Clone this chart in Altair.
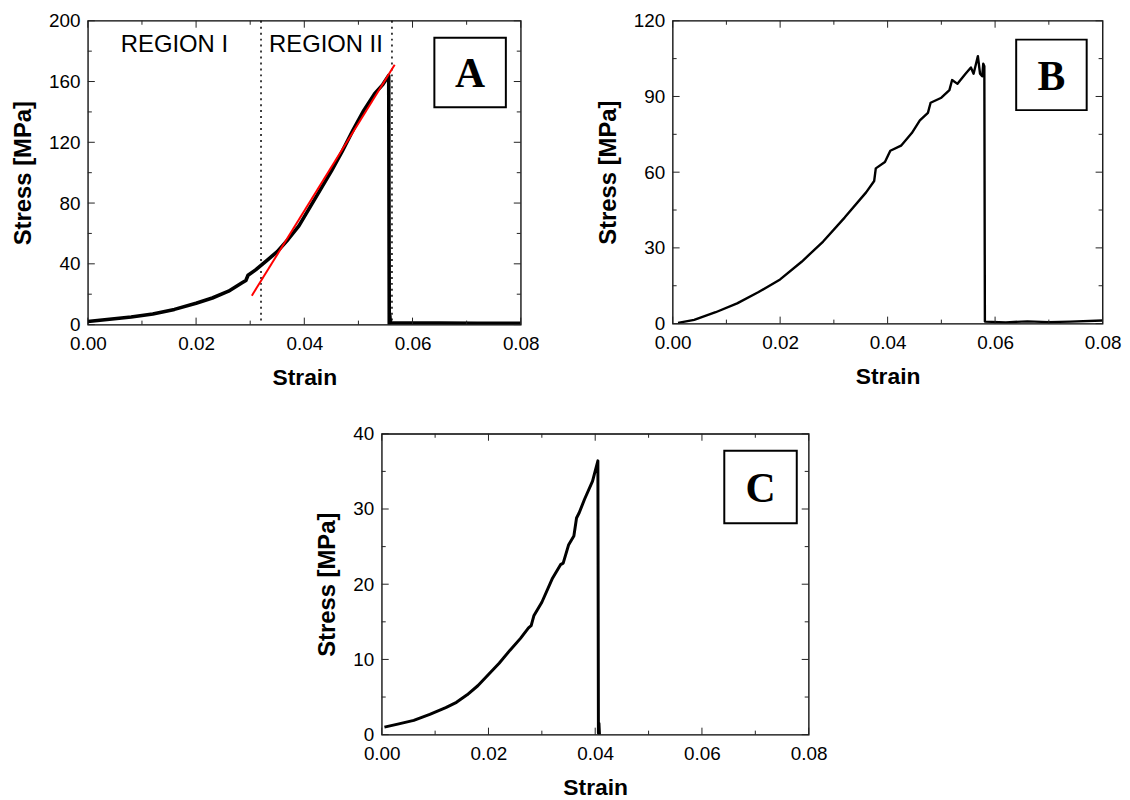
import altair as alt
import pandas as pd

# ---------------- data ----------------
X_MAJOR = [0.0, 0.02, 0.04, 0.06, 0.08]
X_MINOR = [0.01, 0.03, 0.05, 0.07]

A_Y_MAJOR = [0, 40, 80, 120, 160, 200]
A_Y_MINOR = [20, 60, 100, 140, 180]
B_Y_MAJOR = [0, 30, 60, 90, 120]
B_Y_MINOR = [15, 45, 75, 105]
C_Y_MAJOR = [0, 10, 20, 30, 40]
C_Y_MINOR = [5, 15, 25, 35]

A_STRAIN = [0.0, 0.004, 0.008, 0.012, 0.016, 0.02, 0.023, 0.026, 0.0285, 0.0292,
            0.0296, 0.031, 0.033, 0.035, 0.037, 0.039, 0.041, 0.043, 0.045, 0.047,
            0.049, 0.051, 0.053, 0.0545, 0.0556, 0.0557, 0.0558, 0.0559, 0.056,
            0.065, 0.072, 0.08]
A_STRESS = [2, 3.5, 5, 7, 10, 14, 17.5, 22, 27.5, 29,
            32.5, 36, 42, 48, 56, 65, 77, 89, 101, 114,
            128, 141, 152, 158, 164, 0.5, 6, 1.2, 1,
            1, 0.8, 0.8]

FIT_STRAIN = [0.0303, 0.0567]
FIT_STRESS = [19, 171]

REGION_BOUNDS = [0.032, 0.0562]
REGION_LABELS = ["REGION I", "REGION II"]
REGION_X = [0.016, 0.044]
REGION_Y = [184, 184]

B_STRAIN = [0.001, 0.004, 0.008, 0.012, 0.016, 0.02, 0.024, 0.028, 0.032, 0.036,
            0.0375, 0.0378, 0.0395, 0.0405, 0.0425, 0.0445, 0.046, 0.0475, 0.048,
            0.05, 0.0515, 0.052, 0.053, 0.0545, 0.0555, 0.056, 0.0568, 0.0572,
            0.0576, 0.0578, 0.058, 0.0581, 0.062, 0.066, 0.07, 0.074, 0.08]
B_STRESS = [0.3, 1.5, 4.5, 8, 12.5, 17.5, 24.5, 32.5, 42, 52,
            56.5, 61.5, 64, 68.5, 70.5, 75.5, 80.5, 83.5, 87.5,
            89.5, 92.5, 96.5, 95, 99, 101.5, 99, 106, 99,
            98, 103, 102, 0.8, 0.5, 0.9, 0.6, 0.8, 1.2]

C_STRAIN = [0.0005, 0.003, 0.006, 0.009, 0.012, 0.014, 0.016, 0.018, 0.02, 0.022,
            0.024, 0.026, 0.0275, 0.028, 0.0285, 0.03, 0.032, 0.0335, 0.034, 0.035,
            0.036, 0.0365, 0.037, 0.038, 0.0395, 0.0405, 0.0406, 0.0407, 0.0408]
C_STRESS = [1.0, 1.4, 1.9, 2.7, 3.6, 4.3, 5.3, 6.5, 8.0, 9.5,
            11.2, 12.8, 14.2, 14.5, 15.8, 17.6, 20.8, 22.6, 22.8, 25.2,
            26.4, 28.8, 29.5, 31.3, 33.7, 36.4, 0.2, 1.5, 0.0]

FONT = "Liberation Sans"


def make_axes(ymaj):
    xaxis = alt.Axis(values=X_MAJOR, format=".2f", ticks=False, domain=False, grid=False,
                     labelPadding=10, labelFontSize=19, labelFont=FONT, labelColor="black",
                     labelFlush=False, labelOverlap=False,
                     title="Strain", titleFont=FONT, titleFontSize=23, titleFontWeight="bold",
                     titleColor="black", titlePadding=13)
    yaxis = alt.Axis(values=ymaj, format="d", ticks=False, domain=False, grid=False,
                     labelPadding=8, labelFontSize=19, labelFont=FONT, labelColor="black",
                     labelFlush=False, labelOverlap=False,
                     title="Stress [MPa]", titleFont=FONT, titleFontSize=24, titleFontWeight="bold",
                     titleColor="black", titlePadding=13)
    return xaxis, yaxis


def tick_layers(xs, ys, xa, ya, w, h, ymaj, ymin):
    layers = []
    for vals, L in [(X_MAJOR, 7), (X_MINOR, 4)]:
        base = alt.Chart(pd.DataFrame({"v": vals})).mark_rule(color="#222", strokeWidth=1)
        xe = alt.X("v:Q", scale=xs, axis=xa)
        layers.append(base.encode(x=xe, y=alt.value(h), y2=alt.value(h - L)))
        layers.append(base.encode(x=xe, y=alt.value(0), y2=alt.value(L)))
    for vals, L in [(ymaj, 7), (ymin, 4)]:
        base = alt.Chart(pd.DataFrame({"v": vals})).mark_rule(color="#222", strokeWidth=1)
        ye = alt.Y("v:Q", scale=ys, axis=ya)
        layers.append(base.encode(y=ye, x=alt.value(0), x2=alt.value(L)))
        layers.append(base.encode(y=ye, x=alt.value(w), x2=alt.value(w - L)))
    return layers


def panel(strain, stress, ymax, ymaj, ymin, w, h, letter, box, line_w, extra=None):
    xs = alt.Scale(domain=[0, 0.08], nice=False, zero=False)
    ys = alt.Scale(domain=[0, ymax], nice=False, zero=False)
    xa, ya = make_axes(ymaj)
    df = pd.DataFrame({"strain": strain, "stress": stress, "idx": list(range(len(strain)))})
    curve = alt.Chart(df).mark_line(color="black", strokeWidth=line_w, clip=True,
                                    strokeJoin="round").encode(
        x=alt.X("strain:Q", scale=xs, axis=xa),
        y=alt.Y("stress:Q", scale=ys, axis=ya),
        order="idx:Q",
    )
    layers = [curve]
    if extra:
        layers += extra(xs, ys, xa, ya)
    layers += tick_layers(xs, ys, xa, ya, w, h, ymaj, ymin)
    x0, x1, y0, y1 = box
    one = pd.DataFrame({"t": [letter]})
    layers.append(alt.Chart(one).mark_rect(fill="white", stroke="black", strokeWidth=2).encode(
        x=alt.value(x0), x2=alt.value(x1), y=alt.value(y0), y2=alt.value(y1)))
    layers.append(alt.Chart(one).mark_text(font="Liberation Serif", fontWeight="bold", fontSize=42,
                                           align="center", baseline="middle", color="black").encode(
        x=alt.value((x0 + x1) / 2), y=alt.value((y0 + y1) / 2 + 2), text="t:N"))
    return alt.layer(*layers).properties(width=w, height=h)


def extra_a(xs, ys, xa, ya):
    fit = alt.Chart(pd.DataFrame({"strain": FIT_STRAIN, "stress": FIT_STRESS})).mark_line(
        color="#ff0000", strokeWidth=2).encode(
        x=alt.X("strain:Q", scale=xs, axis=xa), y=alt.Y("stress:Q", scale=ys, axis=ya))
    bounds = alt.Chart(pd.DataFrame({"v": REGION_BOUNDS})).mark_rule(
        color="black", strokeWidth=1.5, strokeDash=[2, 4]).encode(
        x=alt.X("v:Q", scale=xs, axis=xa))
    txt = alt.Chart(pd.DataFrame({"lab": REGION_LABELS, "x": REGION_X, "y": REGION_Y})).mark_text(
        font=FONT, fontSize=24, color="black", align="center", baseline="middle").encode(
        x=alt.X("x:Q", scale=xs, axis=xa), y=alt.Y("y:Q", scale=ys, axis=ya), text="lab:N")
    return [bounds, fit, txt]


A = panel(A_STRAIN, A_STRESS, 200, A_Y_MAJOR, A_Y_MINOR, 436, 306, "A", (349, 421, 17, 87), 3.6, extra_a)
B = panel(B_STRAIN, B_STRESS, 120, B_Y_MAJOR, B_Y_MINOR, 433, 305, "B", (346, 417, 19, 90), 2.4)
C = panel(C_STRAIN, C_STRESS, 40, C_Y_MAJOR, C_Y_MINOR, 430, 303, "C", (345, 418, 17, 90), 3.0)

top = alt.hconcat(A, B, spacing=55)
chart = alt.vconcat(top, C, spacing=34, center=True).properties(
    padding={"left": 3, "top": 0, "right": 0, "bottom": 0}
).configure(font=FONT, background="white").configure_view(stroke="black", strokeWidth=1.3)

chart.save("out.html", embed_options={"renderer": "svg", "actions": False})
